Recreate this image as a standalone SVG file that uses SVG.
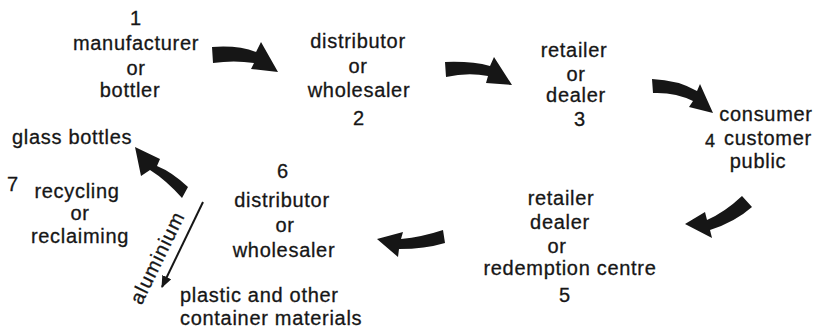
<svg xmlns="http://www.w3.org/2000/svg" width="821" height="328" viewBox="0 0 821 328">
<style>
text{font-family:"Liberation Sans",Arial,sans-serif;font-size:20px;fill:#161616;stroke:#161616;stroke-width:0.3px;letter-spacing:0.7px}
.c{text-anchor:middle}
.arr{fill:#161616;stroke:none}
</style>
<defs>
<marker id="ah" viewBox="0 0 12 10" refX="11" refY="5" markerWidth="12" markerHeight="10" markerUnits="userSpaceOnUse" orient="auto">
<path d="M0,0 L12,5 L0,10 Z" fill="#161616"/>
</marker>
</defs>
<rect width="821" height="328" fill="#fff"/>
<g id="node1">
<text class="c" x="136" y="25">1</text>
<text class="c" x="136" y="50">manufacturer</text>
<text class="c" x="136" y="75">or</text>
<text class="c" x="130" y="97">bottler</text>
</g>
<g id="node2">
<text class="c" x="358" y="48">distributor</text>
<text class="c" x="358" y="73">or</text>
<text class="c" x="359" y="97">wholesaler</text>
<text class="c" x="359" y="125">2</text>
</g>
<g id="node3">
<text class="c" x="574" y="57">retailer</text>
<text class="c" x="576" y="81">or</text>
<text class="c" x="576" y="102">dealer</text>
<text class="c" x="580" y="126">3</text>
</g>
<g id="node4">
<text class="c" x="766" y="121">consumer</text>
<text x="705" y="147" style="font-size:18px">4</text>
<text class="c" x="768" y="145">customer</text>
<text class="c" x="758" y="168">public</text>
</g>
<g id="node5">
<text class="c" x="561" y="205">retailer</text>
<text class="c" x="560" y="229">dealer</text>
<text class="c" x="557" y="253">or</text>
<text class="c" x="570" y="275">redemption centre</text>
<text class="c" x="565" y="302">5</text>
</g>
<g id="node6">
<text class="c" x="283" y="178">6</text>
<text class="c" x="282" y="207">distributor</text>
<text class="c" x="285" y="232">or</text>
<text class="c" x="284" y="257">wholesaler</text>
</g>
<g id="node7">
<text x="7" y="191">7</text>
<text class="c" x="77" y="198">recycling</text>
<text class="c" x="80" y="220">or</text>
<text class="c" x="80" y="243">reclaiming</text>
</g>
<g id="glass">
<text x="12" y="144">glass bottles</text>
</g>
<g id="plastic">
<text x="180" y="302">plastic and other</text>
<text x="180" y="325">container materials</text>
</g>
<g id="connectors">
<path class="arr" d="M212,47 Q238,45 256,52 L261,42 L278,72 L251,69 L254,63 Q234,60 213,63 Z"/>
<path class="arr" d="M445,62 Q472,61 490,66 L494,57 L512,85 L486,83 L488,76 Q468,72 446,77 Z"/>
<path class="arr" d="M652,79 Q678,80 697,91 L700,84 L713,113 L689,107 L693,101 Q675,92 653,93 Z"/>
<path class="arr" d="M742,196 Q725,212 707,220 L705,212 L685,224 L712,238 L710,230 Q735,222 752,207 Z"/>
<path class="arr" d="M443,230 Q422,237 401,239 L403,232 L377,239 L398,257 L399,249 Q425,249 445,243 Z"/>
<path class="arr" d="M188,187 Q172,172 157,166 L160,159 L135,147 L141,176 L150,170 Q166,180 182,198 Z"/>
<line x1="203" y1="202" x2="162" y2="287" stroke="#161616" stroke-width="2" marker-end="url(#ah)"/>
<text class="c" transform="translate(158,258) rotate(-64)" x="0" y="6" style="letter-spacing:1px">aluminium</text>
</g>
</svg>
